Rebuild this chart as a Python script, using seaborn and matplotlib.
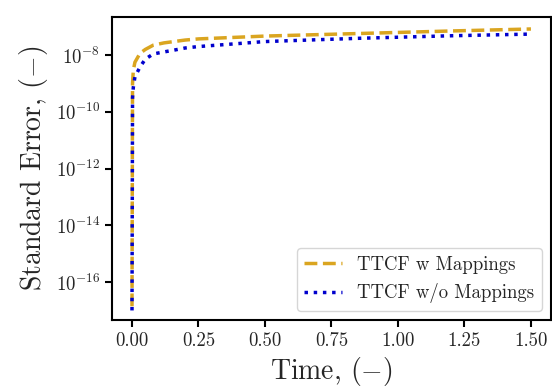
import numpy as np
import pandas as pd
import matplotlib
matplotlib.use("Agg")
import matplotlib.pyplot as plt
import seaborn as sns

time = [0.0, 0.002, 0.005, 0.011, 0.03, 0.05, 0.08, 0.12, 0.16, 0.2, 0.25, 0.5, 0.85, 1.2, 1.5]
err_with_map = [1.4e-17, 1.0e-9, 2.95e-9, 5.6e-9, 1.15e-8, 1.58e-8, 2.24e-8, 2.69e-8,
                3.02e-8, 3.39e-8, 3.72e-8, 4.68e-8, 5.75e-8, 7.08e-8, 8.32e-8]
err_without_map = [1.0e-17, 3.2e-10, 7.4e-10, 1.7e-9, 3.8e-9, 7.2e-9, 1.1e-8, 1.29e-8,
                   1.51e-8, 1.78e-8, 2.0e-8, 3.0e-8, 3.9e-8, 4.8e-8, 5.5e-8]
labels = ["TTCF w Mappings", "TTCF w/o Mappings"]

sns.set_style("ticks")
plt.rcParams["font.family"] = ["cmr10"]
plt.rcParams["mathtext.fontset"] = "cm"
plt.rcParams["axes.formatter.use_mathtext"] = True
plt.rcParams["axes.unicode_minus"] = False

df1 = pd.DataFrame({"t": time, "e": err_with_map})
df2 = pd.DataFrame({"t": time, "e": err_without_map})

fig, ax = plt.subplots(figsize=(5.52, 3.88), dpi=100)
fig.subplots_adjust(left=0.203, right=0.998, top=0.956, bottom=0.175)

sns.lineplot(data=df1, x="t", y="e", ax=ax, color="goldenrod", linestyle="--",
             linewidth=2.5, label=labels[0])
sns.lineplot(data=df2, x="t", y="e", ax=ax, color="mediumblue", linestyle=":",
             linewidth=2.5, label=labels[1])

ax.set_yscale("log")
ax.set_xlim(-0.075, 1.575)
ax.set_ylim(10**-17.34, 10**-6.66)
ax.set_yticks([1e-16, 1e-14, 1e-12, 1e-10, 1e-8])
ax.set_xticks([0, 0.25, 0.5, 0.75, 1.0, 1.25, 1.5])
ax.set_xticklabels(["0.00", "0.25", "0.50", "0.75", "1.00", "1.25", "1.50"])
ax.minorticks_off()
ax.tick_params(axis="both", labelsize=13.5, length=5, width=1.5, color="black")

for s in ax.spines.values():
    s.set_color("black")
    s.set_linewidth(1.5)

ax.set_xlabel(r"Time, $(-)$", fontsize=20)
ax.set_ylabel(r"Standard Error, $(-)$", fontsize=20)

leg = ax.legend(loc="lower right", fontsize=13.5, frameon=True)

fig.savefig("out.png", dpi=100)
